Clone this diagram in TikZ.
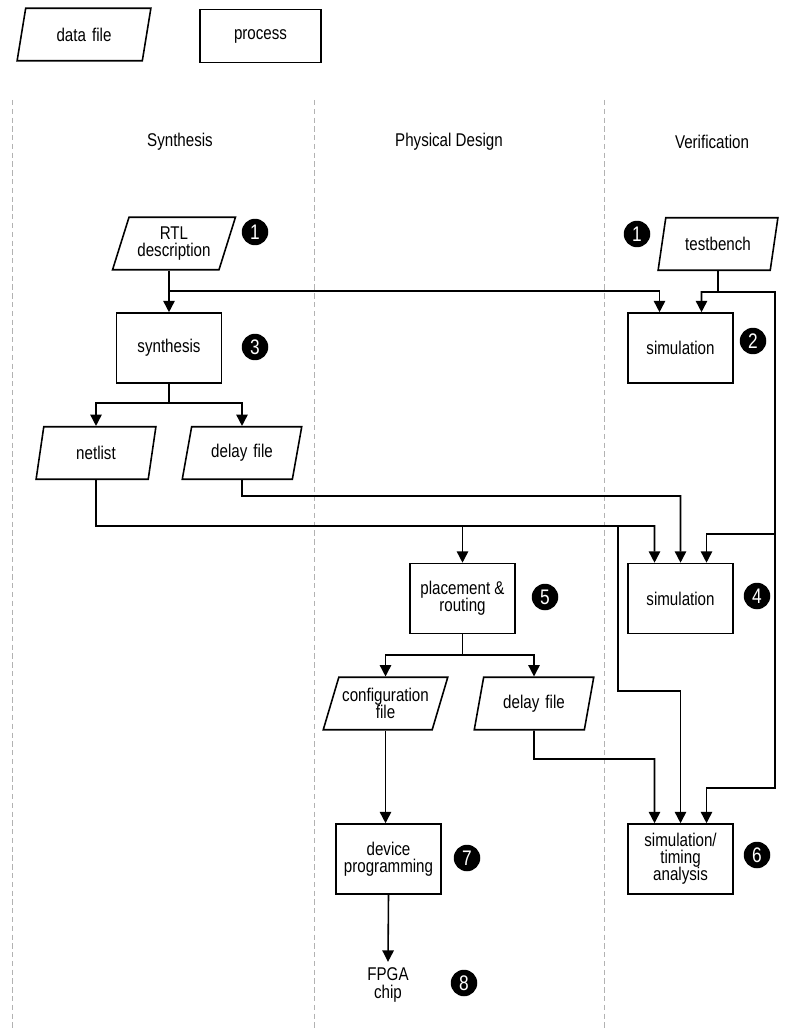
\documentclass[tikz,border=0pt]{standalone}
\usepackage{fontspec}
\setmainfont{Liberation Sans}[FakeStretch=0.82]
\usetikzlibrary{positioning, calc, shapes.geometric, arrows.meta}

\tikzset{
  lines/.style={line width=0.9pt},
  arr/.style={line width=0.9pt, -{Triangle[length=6.5pt,width=6.5pt]}},
  procbox/.style={draw, line width=0.9pt, minimum width=2.1cm, minimum height=1.4cm, inner sep=0pt, align=center},
  filebox/.style={draw, line width=0.9pt, trapezium, trapezium left angle=64, trapezium right angle=116,
    trapezium stretches=true, minimum width=2.4cm, minimum height=1.05cm, inner xsep=0pt, inner ysep=0pt,
    text width=1.8cm, align=center},
  badge/.style={circle, fill=black, text=white, minimum size=0.53cm, inner sep=0pt,
    font=\fontsize{12pt}{12pt}\selectfont},
  lane/.style={gray!60, line width=0.45pt, dash pattern=on 3pt off 2pt}
}

\begin{document}
\begin{tikzpicture}[x=0.02cm, y=-0.02cm, every node/.style={font=\fontsize{10.5pt}{9.8pt}\selectfont}]

\useasboundingbox (0,0) rectangle (787,1030);

% legend
\node[filebox, minimum width=2.68cm] (keyfile) at (84,34.5) {data file};
\node[procbox, minimum width=2.42cm, minimum height=1.06cm] (keyproc) at (260.5,36) {process};

% swim lanes
\draw[lane] (12,100) -- (12,1030);
\draw[lane] (314,100) -- (314,1030);
\draw[lane] (604,100) -- (604,1030);

\node (hsyn) at (180,142) {Synthesis};
\node (hphy) at (449,142) {Physical Design};
\node (hver) at (712,142) {Verification};

% synthesis column
\node[filebox] (rtl) at (174,243.5) {RTL\\description};
\node[badge] (b1a) at (255,232) {1};
\node[procbox] (synth) at (169,348) {synthesis};
\node[badge] (b3) at (255,347) {3};
\node[filebox] (netlist) at (96,453) {netlist};
\node[filebox] (dlyA) at (242,453) {delay file};

% physical design column
\node[procbox] (place) at (462.5,598.5) {placement \&\\routing};
\node[badge] (b5) at (545,597) {5};
\node[filebox, minimum width=2.5cm] (config) at (385.5,703.5) {configuration\\file};
\node[filebox] (dlyB) at (534,703.5) {delay file};
\node[procbox] (device) at (388.5,859) {device\\programming};
\node[badge] (b7) at (467,858) {7};
\node[align=center] (fpga) at (388,985) {FPGA\\chip};
\node[badge] (b8) at (464,983) {8};

% verification column
\node[filebox] (tb) at (718,244) {testbench};
\node[badge] (b1b) at (637,234) {1};
\node[procbox] (sim2) at (680.5,348) {simulation};
\node[badge] (b2) at (753,341) {2};
\node[procbox] (sim4) at (680.5,598.5) {simulation};
\node[badge] (b4) at (757,596) {4};
\node[procbox] (simta) at (680.5,859) {simulation/\\timing\\analysis};
\node[badge] (b6) at (757,855) {6};

% input points
\coordinate (s2a) at ($(sim2.north)+(-21,0)$);
\coordinate (s2b) at ($(sim2.north)+(21,0)$);
\coordinate (s4a) at ($(sim4.north)+(-26,0)$);
\coordinate (s4b) at ($(sim4.north)+(0,0)$);
\coordinate (s4c) at ($(sim4.north)+(26,0)$);
\coordinate (sta) at ($(simta.north)+(-26,0)$);
\coordinate (stb) at ($(simta.north)+(0,0)$);
\coordinate (stc) at ($(simta.north)+(26,0)$);

% bend points
\coordinate (rtlsplit) at (169,291);
\coordinate (tbsplit)  at (718,292);
\coordinate (railtop)  at (775,292);
\coordinate (railmid)  at (775,534);
\coordinate (railbot)  at (775,788);
\coordinate (synsplit) at (169,403);
\coordinate (netbus)   at (96,526);
\coordinate (netdrop)  at (618,526);
\coordinate (netturn)  at (618,691);
\coordinate (dlyturn)  at (242,496);
\coordinate (plsplit)  at (462.5,655);
\coordinate (dlyBturn) at (534,759);

% connectors
\draw[arr] (rtl.south -| synth.north) -- (synth.north);
\draw[arr] (rtlsplit) -| (s2a);
\draw[arr] (tb.south) -- (tbsplit) -| (s2b);
\draw[arr] (tbsplit) -- (railtop) -- (railbot) -| (stc);
\draw[arr] (railmid) -| (s4c);

\draw[lines] (synth.south) -- (synsplit);
\draw[arr] (synsplit) -| (netlist.north);
\draw[arr] (synsplit) -| (dlyA.north);

\draw[arr] (netlist.south) -- (netbus) -| (s4a);
\draw[arr] (netbus -| place.north) -- (place.north);
\draw[arr] (netdrop) -- (netturn) -| (stb);
\draw[arr] (dlyA.south) -- (dlyturn) -| (s4b);

\draw[lines] (place.south) -- (plsplit);
\draw[arr] (plsplit) -| (config.north);
\draw[arr] (plsplit) -| (dlyB.north);
\draw[arr] (config.south) -- (config.south |- device.north);
\draw[arr] (device.south) -- (fpga.north);
\draw[arr] (dlyB.south) -- (dlyBturn) -| (sta);

\end{tikzpicture}
\end{document}
